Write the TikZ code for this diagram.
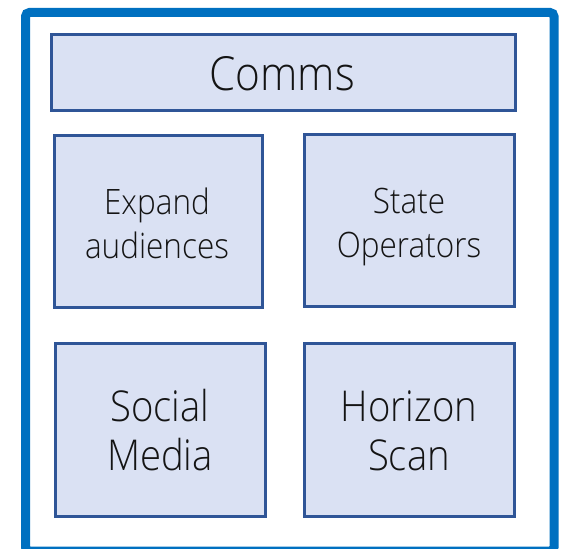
\documentclass[tikz,border=0pt]{standalone}
\usepackage{fontspec}
\setmainfont{Open Sans Light}[FakeStretch=0.9]
\definecolor{outerblue}{HTML}{0070C0}
\definecolor{boxline}{HTML}{2F5597}
\definecolor{boxfill}{HTML}{DAE1F3}
\definecolor{txt}{HTML}{141414}
\begin{document}
\begin{tikzpicture}[x=1pt,y=-1pt,
  cell/.style={draw=boxline, fill=boxfill, line width=3pt, rectangle, inner sep=0pt},
  lbl/.style={inner sep=0pt, text=txt, align=center},
  toptxt/.style={lbl, font=\fontsize{47}{50}\selectfont},
  bigtxt/.style={lbl, font=\fontsize{42.5}{49}\selectfont},
  midtxt/.style={lbl, font=\fontsize{35}{44}\selectfont}]
\useasboundingbox (0,0) rectangle (564,548);
\draw[outerblue, line width=9pt, rounded corners=4pt] (25.5,12.5) rectangle (554,551);
\node[cell, minimum width=464pt, minimum height=76pt] (comms) at (283.5,72.5) {};
\node[cell, minimum width=208pt, minimum height=172pt] (expand) at (158.5,221.5) {};
\node[cell, minimum width=210pt, minimum height=172pt] (state) at (409.5,220.5) {};
\node[cell, minimum width=210pt, minimum height=173pt] (social) at (160,430) {};
\node[cell, minimum width=210pt, minimum height=173pt] (horizon) at (409.5,430) {};
\node[toptxt] (commst) at (282,80.5) {\strut Comms\strut};
\node[midtxt] (expandt) at (157,228) {\strut Expand\\audiences\strut};
\node[midtxt] (statet) at (409,227) {\strut State\\Operators\strut};
\node[bigtxt] (socialt) at (160,436.5) {\strut Social\\Media\strut};
\node[bigtxt] (horizont) at (409,436.5) {\strut Horizon\\Scan\strut};
\end{tikzpicture}
\end{document}
